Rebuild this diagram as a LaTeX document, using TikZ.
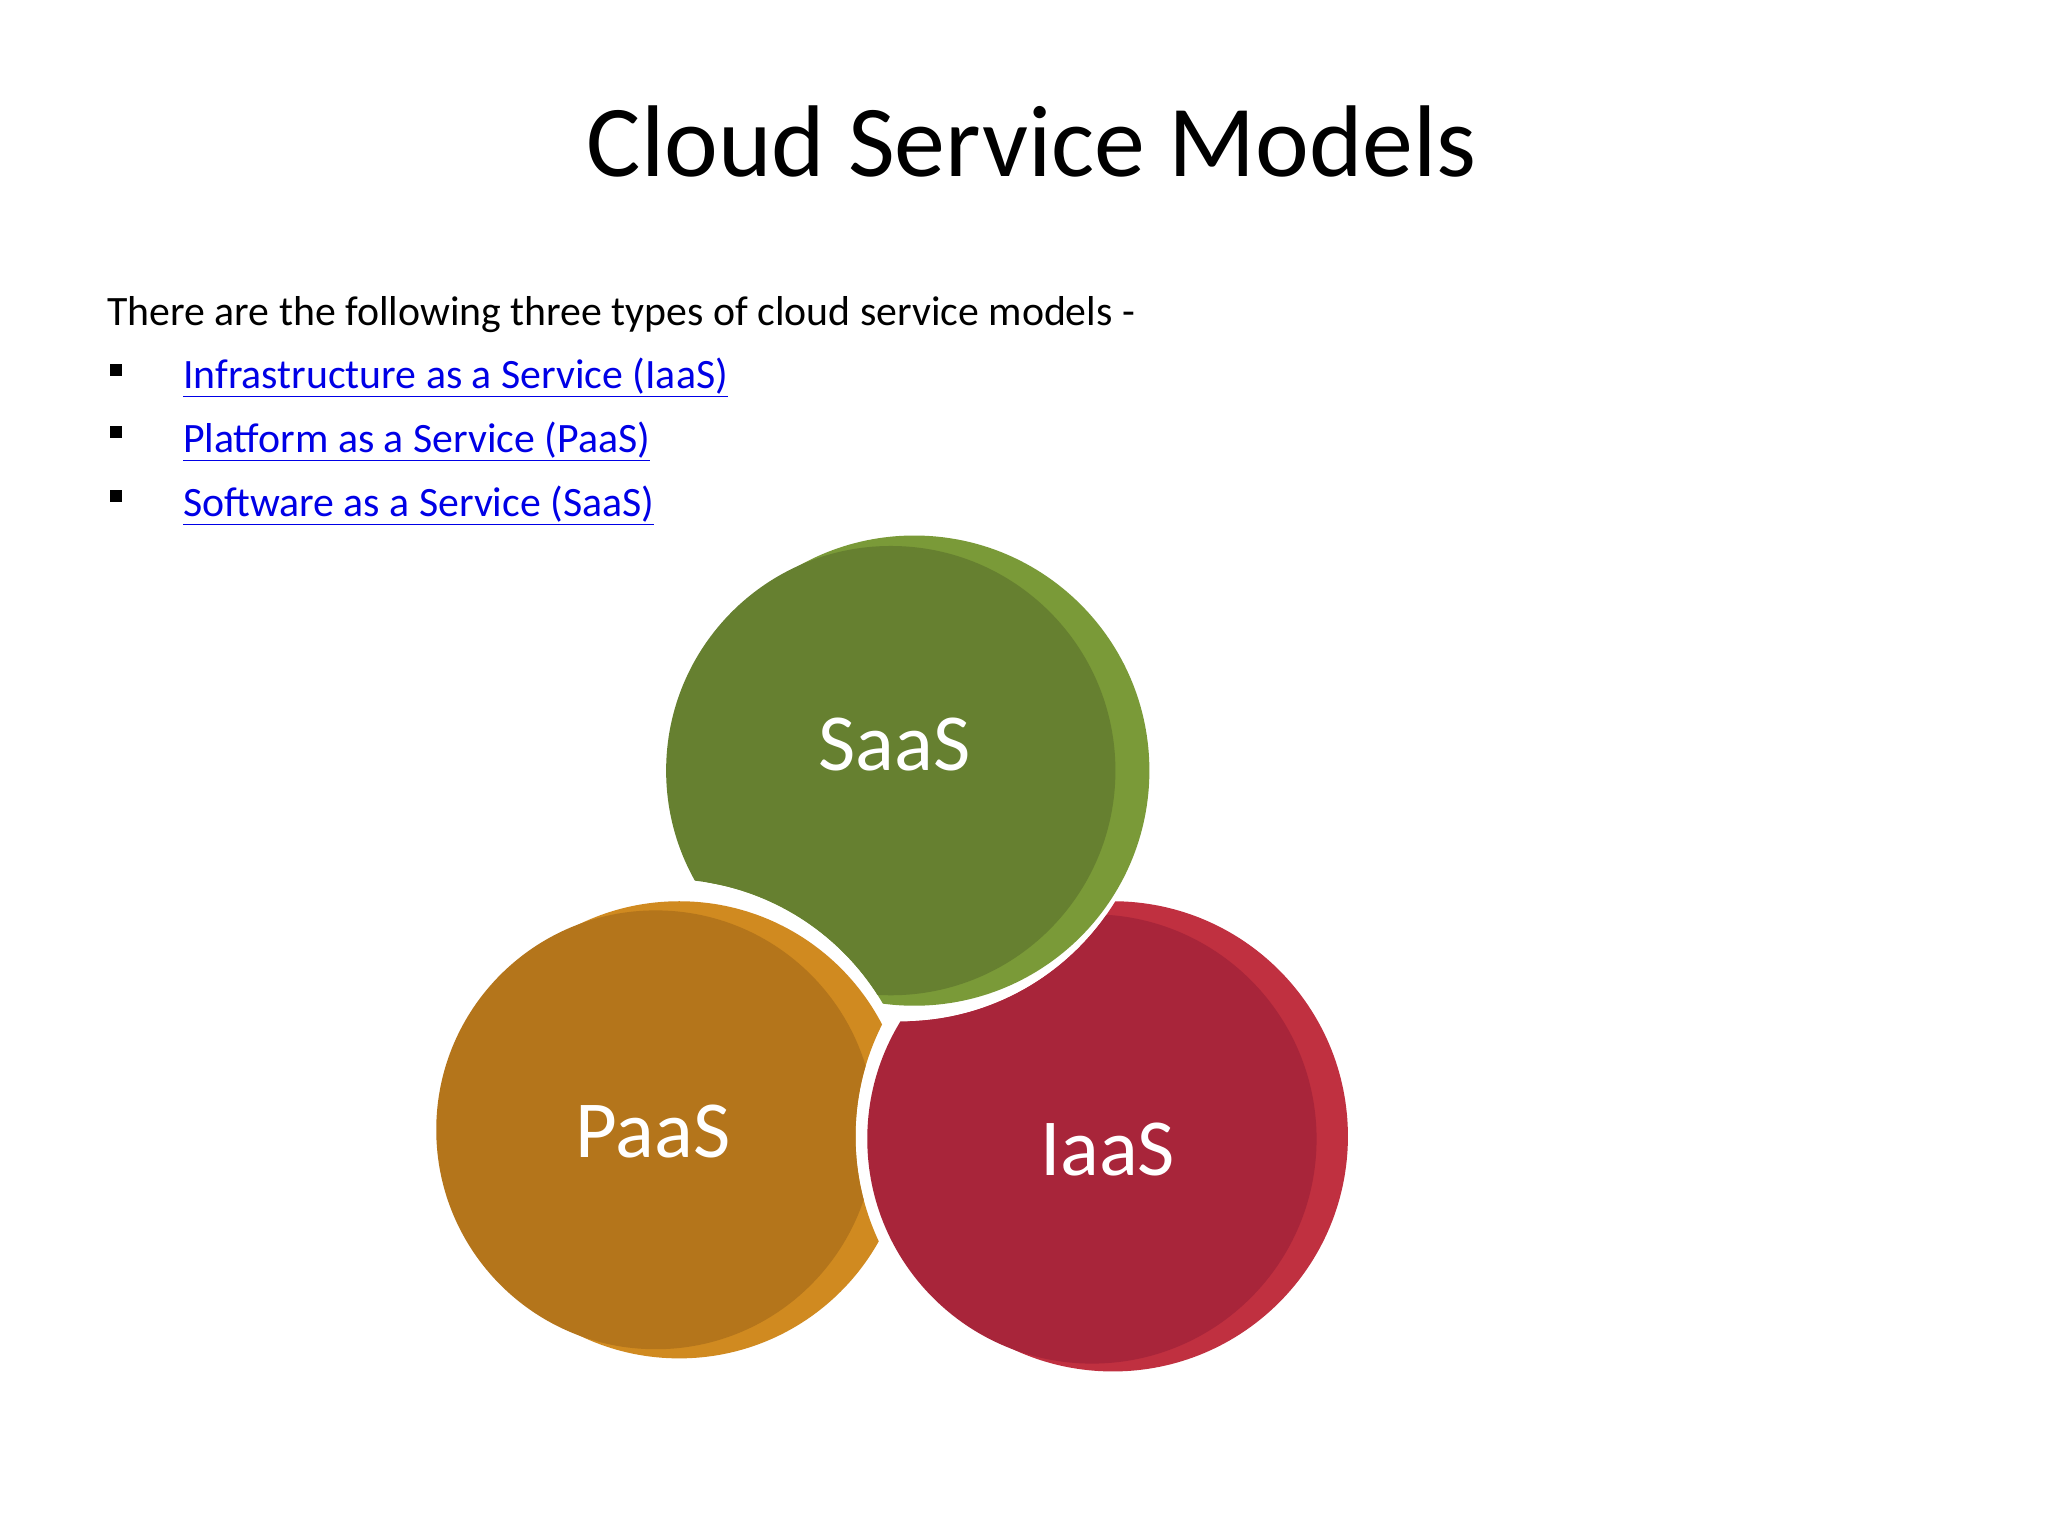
\documentclass[tikz,border=0pt]{standalone}
\usepackage{fontspec}
\setmainfont{Carlito}
\definecolor{saasf}{RGB}{102,128,48}
\definecolor{saass}{RGB}{122,154,56}
\definecolor{paasf}{RGB}{180,117,27}
\definecolor{paass}{RGB}{208,138,32}
\definecolor{iaasf}{RGB}{168,37,58}
\definecolor{iaass}{RGB}{192,48,64}
\definecolor{linkc}{RGB}{0,0,230}
\tikzset{
  linktext/.style={anchor=west,text=linkc,font=\fontsize{32}{38}\selectfont,inner sep=0pt},
  bul/.style={fill=black,minimum size=9pt,inner sep=0pt},
  lbl/.style={text=white,font=\fontsize{62}{70}\selectfont}
}
\newcommand{\ulink}[1]{\underline{#1}}
\begin{document}
\begin{tikzpicture}[x=1pt,y=-1pt]
\useasboundingbox[fill=white] (0,0) rectangle (1568,1176);
\node (title) at (790,108) {\fontsize{78}{90}\selectfont Cloud Service Models};
\node[anchor=west,inner sep=0pt] (intro) at (82,241) {\fontsize{32}{38}\selectfont There are the following three types of cloud service models -};
\node[bul] (b1) at (89,283) {};
\node[bul] (b2) at (89,331) {};
\node[bul] (b3) at (89,380) {};
\node[linktext] (l1) at (140,289) {\ulink{Infrastructure as a Service (IaaS)}};
\node[linktext] (l2) at (140,338) {\ulink{Platform as a Service (PaaS)}};
\node[linktext] (l3) at (140,387) {\ulink{Software as a Service (SaaS)}};
% SaaS
\begin{scope}[even odd rule]
\clip (0,0) rectangle (1568,1176) (510,865) circle (192);
\fill[saass] (700,590) circle (180);
\fill[saasf] (682,590) circle (172);
\end{scope}
% PaaS
\begin{scope}[even odd rule]
\clip (0,0) rectangle (1568,1176) (845,870) circle (190);
\fill[paass] (520,865) circle (175);
\fill[paasf] (502,865) circle (168);
\end{scope}
% IaaS
\begin{scope}[even odd rule]
\clip (0,0) rectangle (1568,1176) (690,590) circle (192);
\fill[iaass] (852,870) circle (180);
\fill[iaasf] (836,872) circle (172);
\end{scope}
\node[lbl] (saas) at (685,570) {SaaS};
\node[lbl] (paas) at (500,866) {PaaS};
\node[lbl] (iaas) at (848,880) {IaaS};
\end{tikzpicture}
\end{document}
